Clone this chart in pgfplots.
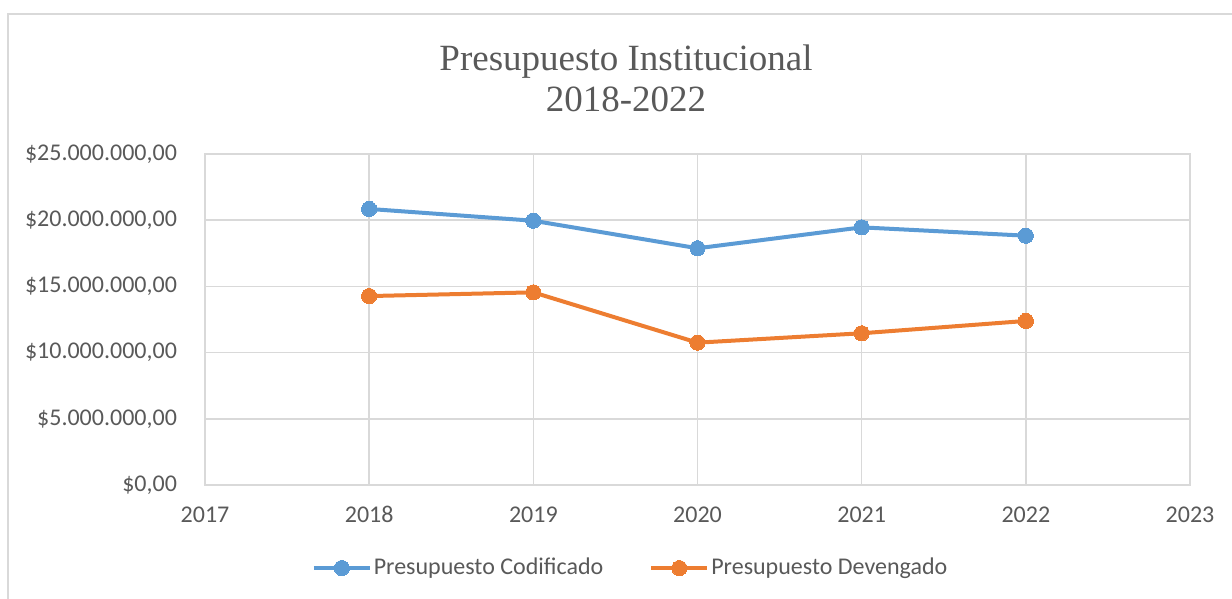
\documentclass[border=0pt]{standalone}
\usepackage{pgfplots}
\pgfplotsset{compat=1.18}
\usepackage{fontspec}
\setmainfont{Carlito}
\newfontfamily\titlefont{Liberation Serif}
\definecolor{cblue}{HTML}{5B9BD5}
\definecolor{corange}{HTML}{ED7D31}
\definecolor{gridc}{HTML}{D9D9D9}
\definecolor{txt}{HTML}{595959}
\begin{document}
\begin{tikzpicture}
\useasboundingbox (-102.5pt,-57pt) rectangle (513.5pt,242.5pt);
\draw[gridc,line width=0.75pt] (-98.5pt,-70pt) -- (-98.5pt,235.5pt) -- (530pt,235.5pt);
\begin{axis}[
  at={(0,0)}, anchor=south west,
  scale only axis,
  width=492.5pt, height=165.5pt,
  xmin=2017, xmax=2023, ymin=0, ymax=25,
  xtick={2017,2018,2019,2020,2021,2022,2023},
  xticklabels={2017,2018,2019,2020,2021,2022,2023},
  ytick={0,5,10,15,20,25},
  yticklabels={{\$0,00},{\$5.000.000,00},{\$10.000.000,00},{\$15.000.000,00},{\$20.000.000,00},{\$25.000.000,00}},
  major tick length=0pt,
  grid=major,
  grid style={gridc, line width=0.75pt},
  axis line style={gridc, line width=0.75pt},
  tick label style={font=\fontsize{12pt}{14pt}\selectfont, text=txt},
  yticklabel style={anchor=east, xshift=-10.5pt},
  xticklabel style={anchor=base, yshift=-19pt},
  /pgf/number format/assume math mode=true,
  legend columns=2,
  legend style={draw=none, fill=none, at={(0.432,-0.251)}, anchor=center,
    font=\fontsize{12pt}{14pt}\selectfont, text=txt,
    /tikz/every even column/.append style={column sep=22pt},
    nodes={inner sep=1pt}},
  legend image code/.code={\draw[#1, mark repeat=2, mark phase=2] plot coordinates {(0pt,0pt) (14pt,0pt) (28pt,0pt)};},
  clip=false,
]
\addplot[cblue, line width=2pt, mark=*, mark size=3.8pt, mark options={fill=cblue, draw=cblue, line width=0pt}] coordinates {
  (2018,20.85) (2019,19.96) (2020,17.88) (2021,19.46) (2022,18.83)};
\addlegendentry{Presupuesto Codificado}
\addplot[corange, line width=2pt, mark=*, mark size=3.8pt, mark options={fill=corange, draw=corange, line width=0pt}] coordinates {
  (2018,14.27) (2019,14.55) (2020,10.75) (2021,11.46) (2022,12.39)};
\addlegendentry{Presupuesto Devengado}
\node[font=\titlefont\fontsize{18.5pt}{20pt}\selectfont, text=txt, anchor=base] at (axis description cs:0.4274,1.2508) {Presupuesto Institucional};
\node[font=\titlefont\fontsize{18.5pt}{20pt}\selectfont, text=txt, anchor=base] at (axis description cs:0.4274,1.1269) {2018-2022};
\end{axis}
\end{tikzpicture}
\end{document}
